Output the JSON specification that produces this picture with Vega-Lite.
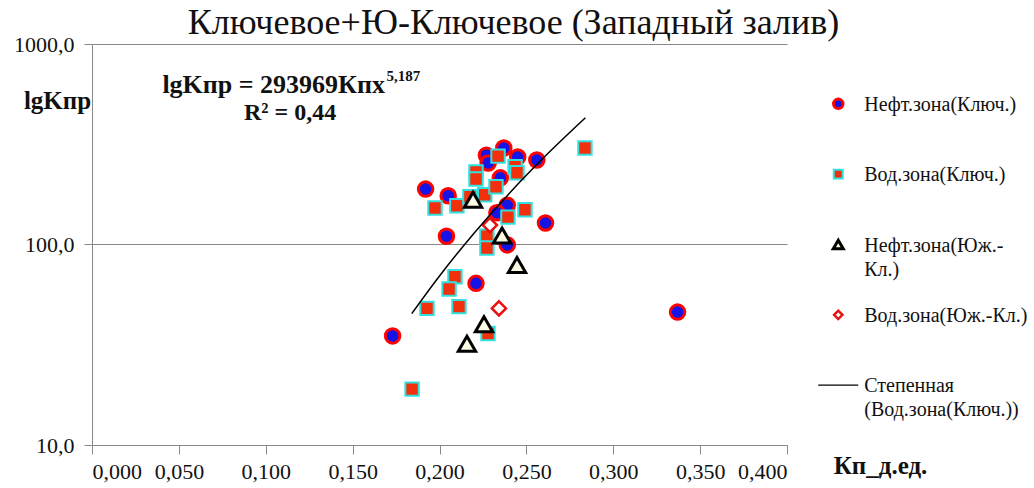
{
  "$schema": "https://vega.github.io/schema/vega-lite/v6.json",
  "width": 695,
  "height": 401,
  "autosize": {"type": "none"},
  "padding": {"left": 92, "top": 44, "right": 247, "bottom": 43},
  "background": "white",
  "title": {"text": "Ключевое+Ю-Ключевое (Западный залив)", "font": "Liberation Serif", "fontSize": 36, "fontWeight": "normal", "color": "#111111", "anchor": "middle", "dx": 74, "offset": -9},
  "datasets": {
    "pts": [
      {"series": "Нефт.зона(Ключ.)", "kp": 0.192, "kpr": 189},
      {"series": "Нефт.зона(Ключ.)", "kp": 0.205, "kpr": 175},
      {"series": "Нефт.зона(Ключ.)", "kp": 0.227, "kpr": 279},
      {"series": "Нефт.зона(Ключ.)", "kp": 0.237, "kpr": 303},
      {"series": "Нефт.зона(Ключ.)", "kp": 0.245, "kpr": 273},
      {"series": "Нефт.зона(Ключ.)", "kp": 0.256, "kpr": 264},
      {"series": "Нефт.зона(Ключ.)", "kp": 0.228, "kpr": 255},
      {"series": "Нефт.зона(Ключ.)", "kp": 0.235, "kpr": 215},
      {"series": "Нефт.зона(Ключ.)", "kp": 0.239, "kpr": 157},
      {"series": "Нефт.зона(Ключ.)", "kp": 0.233, "kpr": 144},
      {"series": "Нефт.зона(Ключ.)", "kp": 0.204, "kpr": 110},
      {"series": "Нефт.зона(Ключ.)", "kp": 0.239, "kpr": 99.5},
      {"series": "Нефт.зона(Ключ.)", "kp": 0.261, "kpr": 128},
      {"series": "Нефт.зона(Ключ.)", "kp": 0.221, "kpr": 64},
      {"series": "Нефт.зона(Ключ.)", "kp": 0.173, "kpr": 35},
      {"series": "Нефт.зона(Ключ.)", "kp": 0.337, "kpr": 46},
      {"series": "Вод.зона(Ключ.)", "kp": 0.1974, "kpr": 152},
      {"series": "Вод.зона(Ключ.)", "kp": 0.21, "kpr": 156},
      {"series": "Вод.зона(Ключ.)", "kp": 0.221, "kpr": 230},
      {"series": "Вод.зона(Ключ.)", "kp": 0.221, "kpr": 212},
      {"series": "Вод.зона(Ключ.)", "kp": 0.226, "kpr": 177},
      {"series": "Вод.зона(Ключ.)", "kp": 0.2175, "kpr": 173},
      {"series": "Вод.зона(Ключ.)", "kp": 0.2337, "kpr": 276},
      {"series": "Вод.зона(Ключ.)", "kp": 0.2325, "kpr": 194},
      {"series": "Вод.зона(Ключ.)", "kp": 0.2435, "kpr": 244},
      {"series": "Вод.зона(Ключ.)", "kp": 0.2446, "kpr": 228},
      {"series": "Вод.зона(Ключ.)", "kp": 0.2394, "kpr": 137},
      {"series": "Вод.зона(Ключ.)", "kp": 0.2492, "kpr": 149},
      {"series": "Вод.зона(Ключ.)", "kp": 0.2273, "kpr": 110},
      {"series": "Вод.зона(Ключ.)", "kp": 0.2273, "kpr": 96},
      {"series": "Вод.зона(Ключ.)", "kp": 0.2089, "kpr": 69},
      {"series": "Вод.зона(Ключ.)", "kp": 0.2055, "kpr": 60},
      {"series": "Вод.зона(Ключ.)", "kp": 0.1928, "kpr": 48},
      {"series": "Вод.зона(Ключ.)", "kp": 0.2112, "kpr": 49},
      {"series": "Вод.зона(Ключ.)", "kp": 0.2279, "kpr": 36},
      {"series": "Вод.зона(Ключ.)", "kp": 0.2837, "kpr": 303},
      {"series": "Вод.зона(Ключ.)", "kp": 0.1842, "kpr": 19},
      {"series": "Нефт.зона(Юж.-Кл.)", "kp": 0.2193, "kpr": 167},
      {"series": "Нефт.зона(Юж.-Кл.)", "kp": 0.236, "kpr": 111},
      {"series": "Нефт.зона(Юж.-Кл.)", "kp": 0.2446, "kpr": 79},
      {"series": "Нефт.зона(Юж.-Кл.)", "kp": 0.2256, "kpr": 40},
      {"series": "Нефт.зона(Юж.-Кл.)", "kp": 0.2158, "kpr": 32},
      {"series": "Вод.зона(Юж.-Кл.)", "kp": 0.229, "kpr": 125},
      {"series": "Вод.зона(Юж.-Кл.)", "kp": 0.2342, "kpr": 48}
    ],
    "trend": [
      {"kp": 0.184, "kpr": 45.2},
      {"kp": 0.2, "kpr": 69.7},
      {"kp": 0.22, "kpr": 114.2},
      {"kp": 0.24, "kpr": 179.3},
      {"kp": 0.26, "kpr": 271.4},
      {"kp": 0.284, "kpr": 429}
    ],
    "leg": [
      {"series": "Нефт.зона(Ключ.)", "label": "Нефт.зона(Ключ.)"},
      {"series": "Вод.зона(Ключ.)", "label": "Вод.зона(Ключ.)"},
      {"series": "Нефт.зона(Юж.-Кл.)", "label": ["Нефт.зона(Юж.-", "Кл.)"]},
      {"series": "Вод.зона(Юж.-Кл.)", "label": "Вод.зона(Юж.-Кл.)"},
      {"series": "Степенная (Вод.зона(Ключ.))", "label": ["Степенная", "(Вод.зона(Ключ.))"]}
    ],
    "eq": [{"kp": 0.1686, "kpr": 624, "t": "lgKпр = 293969Кпх"}],
    "sup": [{"kp": 0.1695, "kpr": 690, "t": "5,187"}],
    "r2": [{"kp": 0.114, "kpr": 455, "t": "R² = 0,44"}]
  },
  "resolve": {"scale": {"y": "independent", "size": "independent", "strokeWidth": "independent"}},
  "layer": [
    {
      "data": {"name": "pts"},
      "mark": {"type": "point", "filled": true, "opacity": 1},
      "encoding": {
        "x": {
          "field": "kp", "type": "quantitative",
          "scale": {"domain": [0, 0.4], "nice": false, "zero": false},
          "axis": {
            "values": [0, 0.05, 0.1, 0.15, 0.2, 0.25, 0.3, 0.35, 0.4],
            "labelExpr": "replace(format(datum.value, '.3f'), '.', ',')",
            "labelFont": "Liberation Serif", "labelFontSize": 22, "labelColor": "#111111",
            "domainColor": "#888888", "tickColor": "#888888",
            "grid": false,
            "tickSize": 9,
            "labelPadding": 7,
            "title": "Кп_д.ед.",
            "titleFont": "Liberation Serif", "titleColor": "#111111",
            "titleX": 788, "titleY": 20, "titleAlign": "center", "titleBaseline": "middle",
            "titleFontSize": 25, "titleFontWeight": "bold"
          }
        },
        "y": {
          "field": "kpr", "type": "quantitative",
          "scale": {"type": "log", "domain": [10, 1000], "nice": false},
          "axis": {
            "values": [10, 100, 1000],
            "labelExpr": "replace(format(datum.value, '.1f'), '.', ',')",
            "labelFont": "Liberation Serif", "labelFontSize": 22, "labelColor": "#111111",
            "domainColor": "#888888", "tickColor": "#888888", "gridColor": "#888888", "gridWidth": 1,
            "grid": true,
            "tickSize": 8,
            "labelPadding": 10,
            "title": "lgKпр",
            "titleFont": "Liberation Serif", "titleColor": "#111111",
            "titleAngle": 0, "titleX": -35, "titleY": 56, "titleAlign": "center", "titleBaseline": "middle",
            "titleFontSize": 25, "titleFontWeight": "bold"
          }
        },
        "shape": {
          "field": "series", "type": "nominal", "legend": null,
          "scale": {"domain": ["Нефт.зона(Ключ.)", "Вод.зона(Ключ.)", "Нефт.зона(Юж.-Кл.)", "Вод.зона(Юж.-Кл.)", "Степенная (Вод.зона(Ключ.))"], "range": ["circle", "square", "triangle-up", "diamond", "stroke"]}
        },
        "fill": {
          "field": "series", "type": "nominal", "legend": null,
          "scale": {"domain": ["Нефт.зона(Ключ.)", "Вод.зона(Ключ.)", "Нефт.зона(Юж.-Кл.)", "Вод.зона(Юж.-Кл.)", "Степенная (Вод.зона(Ключ.))"], "range": ["#1414e6", "#f2300c", "#fbfbe4", "#ffffff", "#000000"]}
        },
        "stroke": {
          "field": "series", "type": "nominal", "legend": null,
          "scale": {"domain": ["Нефт.зона(Ключ.)", "Вод.зона(Ключ.)", "Нефт.зона(Юж.-Кл.)", "Вод.зона(Юж.-Кл.)", "Степенная (Вод.зона(Ключ.))"], "range": ["#ff0000", "#33e0e0", "#000000", "#e81010", "#000000"]}
        },
        "strokeWidth": {
          "field": "series", "type": "nominal", "legend": null,
          "scale": {"type": "ordinal", "domain": ["Нефт.зона(Ключ.)", "Вод.зона(Ключ.)", "Нефт.зона(Юж.-Кл.)", "Вод.зона(Юж.-Кл.)", "Степенная (Вод.зона(Ключ.))"], "range": [3, 2, 3, 2.5, 1.5]}
        },
        "size": {
          "field": "series", "type": "nominal", "legend": null,
          "scale": {"type": "ordinal", "domain": ["Нефт.зона(Ключ.)", "Вод.зона(Ключ.)", "Нефт.зона(Юж.-Кл.)", "Вод.зона(Юж.-Кл.)", "Степенная (Вод.зона(Ключ.))"], "range": [210, 180, 300, 200, 100]}
        }
      }
    },
    {
      "data": {"name": "trend"},
      "mark": {"type": "line", "color": "#000000", "strokeWidth": 1.5, "interpolate": "monotone"},
      "encoding": {
        "x": {"field": "kp", "type": "quantitative", "scale": {"domain": [0, 0.4], "nice": false, "zero": false}},
        "y": {"field": "kpr", "type": "quantitative", "scale": {"type": "log", "domain": [10, 1000], "nice": false}, "axis": null}
      }
    },
    {
      "data": {"name": "eq"},
      "mark": {"type": "text", "align": "right", "baseline": "middle", "font": "Liberation Serif", "fontSize": 26, "fontWeight": "bold", "color": "#111111"},
      "encoding": {
        "x": {"field": "kp", "type": "quantitative", "scale": {"domain": [0, 0.4], "nice": false, "zero": false}},
        "y": {"field": "kpr", "type": "quantitative", "scale": {"type": "log", "domain": [10, 1000], "nice": false}, "axis": null},
        "text": {"field": "t"}
      }
    },
    {
      "data": {"name": "sup"},
      "mark": {"type": "text", "align": "left", "baseline": "middle", "font": "Liberation Serif", "fontSize": 15, "fontWeight": "bold", "color": "#111111"},
      "encoding": {
        "x": {"field": "kp", "type": "quantitative", "scale": {"domain": [0, 0.4], "nice": false, "zero": false}},
        "y": {"field": "kpr", "type": "quantitative", "scale": {"type": "log", "domain": [10, 1000], "nice": false}, "axis": null},
        "text": {"field": "t"}
      }
    },
    {
      "data": {"name": "r2"},
      "mark": {"type": "text", "align": "center", "baseline": "middle", "font": "Liberation Serif", "fontSize": 24, "fontWeight": "bold", "color": "#111111"},
      "encoding": {
        "x": {"field": "kp", "type": "quantitative", "scale": {"domain": [0, 0.4], "nice": false, "zero": false}},
        "y": {"field": "kpr", "type": "quantitative", "scale": {"type": "log", "domain": [10, 1000], "nice": false}, "axis": null},
        "text": {"field": "t"}
      }
    },
    {
      "data": {"name": "leg"},
      "mark": {"type": "point", "filled": true, "opacity": 1},
      "encoding": {
        "x": {"datum": 0.4295, "type": "quantitative", "scale": {"domain": [0, 0.4], "nice": false, "zero": false}},
        "y": {
          "field": "series", "type": "nominal", "axis": null, "sort": null,
          "scale": {"type": "point", "domain": ["Нефт.зона(Ключ.)", "Вод.зона(Ключ.)", "Нефт.зона(Юж.-Кл.)", "Вод.зона(Юж.-Кл.)", "Степенная (Вод.зона(Ключ.))"], "padding": 0.85}
        },
        "shape": {
          "field": "series", "type": "nominal", "legend": null,
          "scale": {"domain": ["Нефт.зона(Ключ.)", "Вод.зона(Ключ.)", "Нефт.зона(Юж.-Кл.)", "Вод.зона(Юж.-Кл.)", "Степенная (Вод.зона(Ключ.))"], "range": ["circle", "square", "triangle-up", "diamond", "stroke"]}
        },
        "fill": {
          "field": "series", "type": "nominal", "legend": null,
          "scale": {"domain": ["Нефт.зона(Ключ.)", "Вод.зона(Ключ.)", "Нефт.зона(Юж.-Кл.)", "Вод.зона(Юж.-Кл.)", "Степенная (Вод.зона(Ключ.))"], "range": ["#1414e6", "#f2300c", "#fbfbe4", "#ffffff", "#000000"]}
        },
        "stroke": {
          "field": "series", "type": "nominal", "legend": null,
          "scale": {"domain": ["Нефт.зона(Ключ.)", "Вод.зона(Ключ.)", "Нефт.зона(Юж.-Кл.)", "Вод.зона(Юж.-Кл.)", "Степенная (Вод.зона(Ключ.))"], "range": ["#ff0000", "#33e0e0", "#000000", "#e81010", "#000000"]}
        },
        "strokeWidth": {
          "field": "series", "type": "nominal", "legend": null,
          "scale": {"type": "ordinal", "domain": ["Нефт.зона(Ключ.)", "Вод.зона(Ключ.)", "Нефт.зона(Юж.-Кл.)", "Вод.зона(Юж.-Кл.)", "Степенная (Вод.зона(Ключ.))"], "range": [3, 2, 3, 2.5, 1.3]}
        },
        "size": {
          "field": "series", "type": "nominal", "legend": null,
          "scale": {"type": "ordinal", "domain": ["Нефт.зона(Ключ.)", "Вод.зона(Ключ.)", "Нефт.зона(Юж.-Кл.)", "Вод.зона(Юж.-Кл.)", "Степенная (Вод.зона(Ключ.))"], "range": [90, 80, 100, 70, 1600]}
        }
      }
    },
    {
      "data": {"name": "leg"},
      "mark": {"type": "text", "align": "left", "baseline": "alphabetic", "dx": 26, "dy": 7, "font": "Liberation Serif", "fontSize": 20, "lineHeight": 24, "color": "#111111"},
      "encoding": {
        "x": {"datum": 0.4295, "type": "quantitative", "scale": {"domain": [0, 0.4], "nice": false, "zero": false}},
        "y": {
          "field": "series", "type": "nominal", "axis": null, "sort": null,
          "scale": {"type": "point", "domain": ["Нефт.зона(Ключ.)", "Вод.зона(Ключ.)", "Нефт.зона(Юж.-Кл.)", "Вод.зона(Юж.-Кл.)", "Степенная (Вод.зона(Ключ.))"], "padding": 0.85}
        },
        "text": {"field": "label"}
      }
    }
  ],
  "config": {
    "font": "Liberation Serif",
    "view": {"stroke": null}
  }
}
